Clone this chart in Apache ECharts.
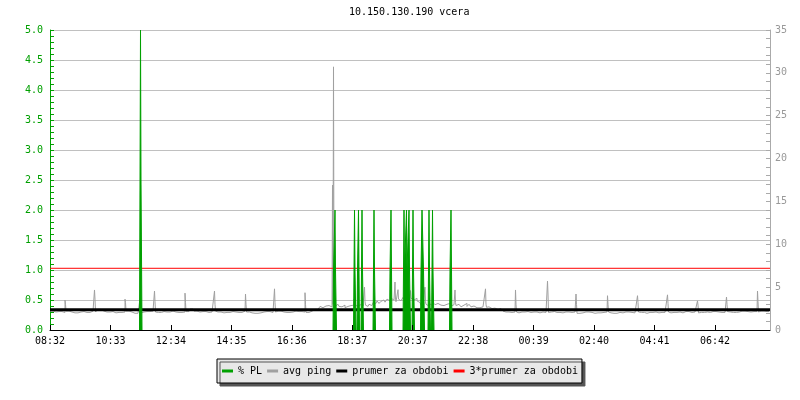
<!DOCTYPE html>
<html>
<head>
<meta charset="utf-8">
<script src="https://cdn.jsdelivr.net/npm/echarts@6/dist/echarts.min.js"></script>
<style>html,body{margin:0;padding:0;background:#fff}#c{width:800px;height:400px}</style>
</head>
<body>
<div id="c"></div>
<script>
const titleText = '10.150.130.190 vcera';
const legendNames = ['% PL', 'avg ping', 'prumer za obdobi', '3*prumer za obdobi'];
const xTickLabels = ['08:32','10:33','12:34','14:35','16:36','18:37','20:37','22:38','00:39','02:40','04:41','06:42'];
const xTickStep = 120.9;   // minutes between time labels
const totalMinutes = 1440;

// % PL (left axis) : [minute, value]; minutes not listed have no loss
const plPoints = [
  [180,2.5],[181,5.0],[182,2.5],[183,2.5],
  [567,1],[568,1],[569,1],[570,2],[571,1],[572,1],
  [608,1],[609,2],[610,1],[611,1],
  [615,1],[616,1],[617,2],[618,1],
  [623,1],[624,2],[625,1],[626,1],
  [647,1],[648,2],[649,1],[650,1],
  [680,1],[681,1],[682,2],[683,1],
  [707,1],[708,2],[709,1],[710,1],[711,1],[712,1],[713,2],[714,1],[715,1],[716,1],[717,1],[718,2],[719,1],[720,1],
  [725,1],[726,2],[727,1],[728,1],
  [742,1],[743,1],[744,2],[745,2],[746,2],[747,1],[748,1],
  [757,1],[758,2],[759,1],[760,1],
  [764,1],[765,2],[766,1],[767,1],
  [800,1],[801,1],[802,2],[803,1]
];

// avg ping (right axis, ms) : base level [minute, value], held until next point
const pingBaseEarly = [
  [0,2.2],[8,2.1],[16,2.15],[24,2.05],[32,2.2],[40,2.1],[48,2.0],[56,2.1],[64,2.15],[72,2.05],
  [80,2.2],[88,2.1],[96,2.4],[104,2.2],[112,2.1],[120,2.15],[128,2.0],[136,2.05],[144,2.1],[152,2.2],
  [160,2.1],[168,1.95],[176,2.0],[184,2.1],[192,2.15],[200,2.2],[208,2.1],[216,2.05],[224,2.15],[232,2.1],
  [240,2.2],[248,2.1],[256,2.05],[264,2.1],[272,2.15],[280,2.45],[288,2.2],[296,2.1],[304,2.15],[312,2.05],
  [320,2.1],[328,2.2],[336,2.1],[344,2.0],[352,2.05],[360,2.15],[368,2.1],[376,2.05],[384,2.2],[392,2.1],
  [400,2.0],[408,1.95],[416,2.0],[424,2.1],[432,2.15],[440,2.05],[448,2.1],[456,2.2],[464,2.1],[472,2.05],
  [480,2.1],[488,2.2],[496,2.15],[504,2.1],[512,2.05],[520,2.2],[528,2.4]
];
const pingBaseMid = [
  [536,2.6],[540,2.75],[544,2.6],[548,2.8],[552,2.7],[556,2.85],[560,2.7],[564,2.9],[570,2.8],[574,3.0],
  [578,2.75],[582,2.7],[586,2.9],[590,2.6],[594,2.75],[598,2.85],[602,2.7],[606,2.9],[610,3.0],[614,2.8],
  [618,2.9],[622,3.1],[626,2.8],[630,2.9],[634,2.75],[638,3.0],[642,2.85],[646,3.2],[650,3.1],[654,3.4],
  [658,3.1],[662,3.35],[666,3.5],[670,3.25],[674,3.6],[678,3.4],[682,3.7],[686,3.5],[690,3.3],[694,3.1],
  [698,3.4],[702,3.6],[706,3.8],[710,3.5],[714,3.9],[718,3.6],[722,3.9],[726,3.5],[730,3.7],[734,3.4],
  [738,3.2],[742,2.9],[746,3.2],[750,3.0],[754,2.8],[758,3.1],[762,2.9],[766,3.2],[770,2.95],[774,3.1],
  [778,2.9],[782,3.05],[786,2.85],[790,3.0],[794,2.9],[798,3.1],[802,2.8],[806,2.95],[810,2.85],[814,3.0],
  [818,2.8],[822,2.7],[826,2.9],[830,3.1],[834,2.75],[838,3.0],[842,2.7],[846,2.8],[850,2.6],[854,2.75],
  [858,2.6],[862,2.7],[866,2.55],[870,2.65],[874,2.6],[878,2.7],[882,2.5],[886,2.55],[890,2.6],[894,2.4],
  [898,2.5],[902,2.3],[906,2.2]
];
const pingBaseLate = [
  [910,2.1],[918,2.05],[926,2.1],[934,2.0],[942,2.1],[950,2.15],[958,2.05],[966,2.1],[974,2.0],[982,2.1],
  [990,2.05],[998,2.1],[1006,2.15],[1014,2.05],[1022,2.0],[1030,2.1],[1038,2.05],[1046,2.1],[1054,1.95],[1062,2.0],
  [1070,2.1],[1078,2.05],[1086,1.95],[1094,2.0],[1102,2.05],[1110,2.1],[1118,2.0],[1126,1.95],[1134,2.05],[1142,2.0],
  [1150,2.1],[1158,2.05],[1166,2.0],[1174,2.1],[1182,2.05],[1190,1.95],[1198,2.05],[1206,2.1],[1214,2.0],[1222,2.05],
  [1230,2.1],[1238,2.0],[1246,2.05],[1254,2.1],[1262,2.0],[1270,2.15],[1278,2.05],[1286,2.1],[1294,2.0],[1302,2.05],
  [1310,2.1],[1318,2.05],[1326,2.15],[1334,2.1],[1342,2.05],[1350,2.15],[1358,2.1],[1366,2.05],[1374,2.1],[1382,2.2],
  [1390,2.15],[1398,2.1],[1406,2.15],[1414,2.1],[1422,2.2],[1430,2.15],[1438,2.1]
];
// ping spikes: [minute, peak, following minute]
const pingSpikes = [
  [30,3.5,3.0],[89,4.67,3.6],[150,3.6,3.2],[181,4.1,3.0],[209,4.55,3.3],[270,4.3,3.2],
  [329,4.55,3.0],[391,4.2,3.0],[449,4.8,3.2],[510,4.35,3.0],
  [565,16.9,3.0],[567,30.7,4.5],[569,4.5,3.2],[608,3.6,3.0],[629,5.0,3.3],[690,5.6,3.6],[696,4.7,3.6],
  [721,4.6,3.7],[750,5.0,3.3],[810,4.67,3.2],[871,4.8,3.0],[931,4.67,3.0],[995,5.7,4.2],
  [1052,4.2,3.0],[1115,4.0,3.0],[1175,4.0,3.2],[1235,4.1,3.1],[1295,3.4,2.9],[1353,3.85,3.0],[1415,4.55,3.3]
];
const avgPing = 2.36;      // prumer za obdobi
const tripleAvgPing = 7.2; // 3*prumer za obdobi

// ---- build series tables ----
const base = pingBaseEarly.concat(pingBaseMid, pingBaseLate);
const ping = new Array(totalMinutes);
let j = 0;
for (let i = 0; i < totalMinutes; i++) {
  while (j + 1 < base.length && base[j + 1][0] <= i) j++;
  ping[i] = base[j][1];
}
pingSpikes.forEach(([m, p, s]) => { ping[m] = p; ping[m + 1] = s; });
const pingData = ping.map((v, i) => [i, v]);

const pl = new Array(totalMinutes).fill(null);
plPoints.forEach(([m, v]) => { pl[m] = v; });
plPoints.forEach(([m]) => {
  if (pl[m - 1] === null) pl[m - 1] = 0;
  if (pl[m + 1] === null) pl[m + 1] = 0;
});
const plData = pl.map((v, i) => [i, v === null ? '-' : v]);

const mono = 'DejaVu Sans Mono';
const green = '#00a000';
const grey = '#a0a0a0';

const chart = echarts.init(document.getElementById('c'), null, {renderer: 'canvas'});
chart.setOption({
  animation: false,
  backgroundColor: '#ffffff',
  title: {
    text: titleText, left: 349, top: 7, padding: 0,
    textStyle: {fontFamily: mono, fontSize: 10, fontWeight: 'normal', color: '#000'}
  },
  legend: {
    data: legendNames, left: 217, top: 359, orient: 'horizontal',
    padding: [6, 4, 6, 5], itemGap: 5, itemWidth: 11, itemHeight: 3, icon: 'rect',
    backgroundColor: '#e8e8e8', borderColor: '#000', borderWidth: 1,
    shadowColor: '#555555', shadowOffsetX: 3, shadowOffsetY: 3, shadowBlur: 0,
    textStyle: {fontFamily: mono, fontSize: 10, color: '#000', lineHeight: 12}
  },
  grid: {left: 50, right: 30, top: 30, bottom: 70},
  xAxis: {
    type: 'value', min: 0, max: totalMinutes, interval: xTickStep, z: 10,
    axisLine: {show: true, lineStyle: {color: '#000', width: 1}},
    axisTick: {show: true, inside: true, length: 5, lineStyle: {color: '#000'}},
    axisLabel: {
      color: '#000', fontFamily: mono, fontSize: 10, margin: 6, showMaxLabel: false,
      formatter: v => xTickLabels[Math.round(v / xTickStep)] || ''
    },
    splitLine: {show: false}
  },
  yAxis: [
    {
      type: 'value', min: 0, max: 5, interval: 0.5, position: 'left',
      axisLine: {show: true, lineStyle: {color: green}},
      axisTick: {show: true, inside: true, length: 4, lineStyle: {color: green}},
      minorTick: {show: true, splitNumber: 5, length: 4, lineStyle: {color: green}},
      axisLabel: {color: green, fontFamily: mono, fontSize: 10, margin: 7, formatter: v => v.toFixed(1)},
      splitLine: {show: true, lineStyle: {color: '#c0c0c0', width: 1}}
    },
    {
      type: 'value', min: 0, max: 35, interval: 5, position: 'right',
      axisLine: {show: true, lineStyle: {color: '#aaaaaa'}},
      axisTick: {show: true, inside: true, length: 4, lineStyle: {color: '#aaaaaa'}},
      minorTick: {show: true, splitNumber: 5, length: 4, lineStyle: {color: '#aaaaaa'}},
      axisLabel: {color: '#999999', fontFamily: mono, fontSize: 10, margin: 5},
      splitLine: {show: false}
    }
  ],
  series: [
    {
      name: legendNames[0], type: 'line', yAxisIndex: 0, step: 'end', data: plData,
      symbol: 'none', connectNulls: false, z: 5,
      itemStyle: {color: green}, lineStyle: {color: green, width: 1},
      areaStyle: {color: green, opacity: 1}
    },
    {
      name: legendNames[1], type: 'line', yAxisIndex: 1, step: 'end', data: pingData,
      symbol: 'none', z: 2,
      itemStyle: {color: grey}, lineStyle: {color: grey, width: 1}
    },
    {
      name: legendNames[2], type: 'line', yAxisIndex: 1,
      data: [[0, avgPing], [totalMinutes, avgPing]], symbol: 'none', z: 3,
      itemStyle: {color: '#000'}, lineStyle: {color: '#000', width: 3}
    },
    {
      name: legendNames[3], type: 'line', yAxisIndex: 1,
      data: [[0, tripleAvgPing], [totalMinutes, tripleAvgPing]], symbol: 'none', z: 3,
      itemStyle: {color: '#ff0000'}, lineStyle: {color: '#ff0000', width: 1}
    }
  ]
});
</script>
</body>
</html>
